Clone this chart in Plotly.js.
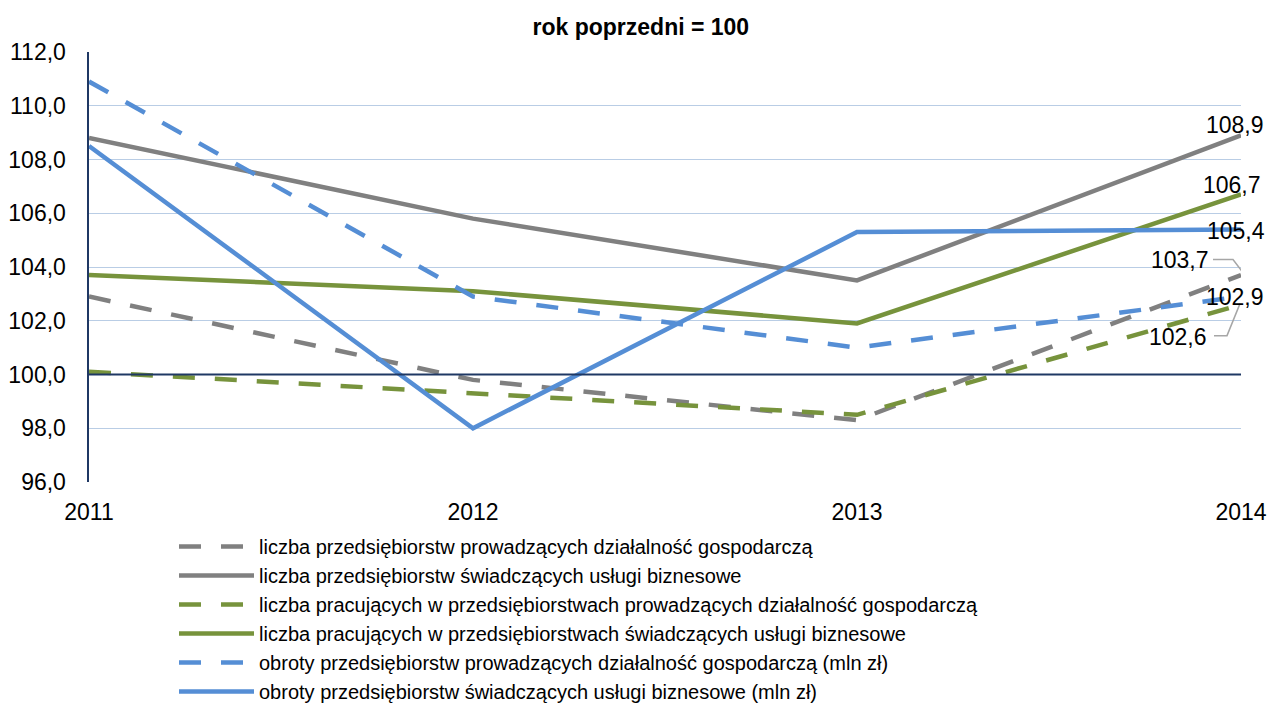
<!DOCTYPE html>
<html>
<head>
<meta charset="utf-8">
<script src="https://cdn.plot.ly/plotly-3.0.1.min.js"></script>
<style>html,body{margin:0;padding:0;background:#fff;}#chart{width:1269px;height:704px;}</style>
</head>
<body>
<div id="chart"></div>
<script>
const years = [2011, 2012, 2013, 2014];
const seriesNames = [
  "liczba przedsiębiorstw prowadzących działalność gospodarczą",
  "liczba przedsiębiorstw świadczących usługi biznesowe",
  "liczba pracujących w przedsiębiorstwach prowadzących działalność gospodarczą",
  "liczba pracujących w przedsiębiorstwach świadczących usługi biznesowe",
  "obroty przedsiębiorstw prowadzących działalność gospodarczą (mln zł)",
  "obroty przedsiębiorstw świadczących usługi biznesowe (mln zł)"
];
const firmyOgolem = [102.9, 99.8, 98.3, 103.7];
const firmyUslugi = [108.8, 105.8, 103.5, 108.9];
const pracujacyOgolem = [100.1, 99.3, 98.5, 102.6];
const pracujacyUslugi = [103.7, 103.1, 101.9, 106.7];
const obrotyOgolem = [110.9, 102.9, 101.0, 102.9];
const obrotyUslugi = [108.5, 98.0, 105.3, 105.4];
const yTicks = [96, 98, 100, 102, 104, 106, 108, 110, 112];

const GRAY = "#808080", GREEN = "#77933C", BLUE = "#558ED5";
const DASH = "22px,20px";
const FONT = "Liberation Sans, Arial, sans-serif";

const seriesData = [firmyOgolem, firmyUslugi, pracujacyOgolem, pracujacyUslugi, obrotyOgolem, obrotyUslugi];
const styles = [
  {color: GRAY, dash: DASH}, {color: GRAY, dash: "solid"},
  {color: GREEN, dash: DASH}, {color: GREEN, dash: "solid"},
  {color: BLUE, dash: DASH}, {color: BLUE, dash: "solid"}
];
const traces = seriesData.map((vals, i) => ({
  type: "scatter", mode: "lines", x: years, y: vals, name: seriesNames[i],
  line: {color: styles[i].color, dash: styles[i].dash, width: 4.5},
  hoverinfo: "x+y"
}));

// end labels: [series index, xshift, yshift]
const labelSpec = [[1, -6, 10], [3, -9, 9], [5, -5, -2], [0, -61, 15], [4, -6, 0], [2, -63, -32]];
const annotations = labelSpec.map(([i, xs, ys]) => {
  const v = seriesData[i][3];
  return {
    x: years[3], y: v, xref: "x", yref: "y", showarrow: false,
    text: v.toFixed(1).replace(".", ","), xshift: xs, yshift: ys,
    font: {family: FONT, size: 23, color: "#000"}
  };
});

const leader = (v, path) => ({
  type: "path", xref: "x", yref: "y", xsizemode: "pixel", ysizemode: "pixel",
  xanchor: years[3], yanchor: v, path: path,
  line: {color: "#A6A6A6", width: 1.5}
});

const shapes = [
  {type: "line", xref: "paper", yref: "y", x0: 0, x1: 1, y0: 100, y1: 100,
   line: {color: "#1F3864", width: 2}},
  leader(firmyOgolem[3], "M-28,15.5 L-8,15.5 L2,2.5"),
  leader(pracujacyOgolem[3], "M-27,-31 L-14,-31 L-1,1")
];

const layout = {
  width: 1269, height: 704,
  margin: {l: 89, r: 28, t: 52, b: 222, autoexpand: false},
  paper_bgcolor: "#fff", plot_bgcolor: "#fff",
  separators: ", ",
  font: {family: FONT, size: 22, color: "#000"},
  title: {text: "<b>rok poprzedni = 100</b>", x: 0.505, xref: "container", xanchor: "center",
          y: 1 - 27 / 704, yref: "container", yanchor: "middle",
          font: {family: FONT, size: 23, color: "#000"}},
  xaxis: {range: [2011, 2014], tickvals: years, ticktext: years.map(String),
          showgrid: false, zeroline: false, showline: false, ticks: "", automargin: false,
          ticklabelstandoff: 14, tickfont: {family: FONT, size: 23, color: "#000"}},
  yaxis: {range: [96, 112], tickvals: yTicks, tickformat: ".1f", automargin: false,
          showgrid: true, gridcolor: "#B9CDE5", gridwidth: 1, zeroline: false,
          showline: true, linecolor: "#1F3864", linewidth: 2.5, ticks: "",
          ticklabelstandoff: 16, tickfont: {family: FONT, size: 23, color: "#000"}},
  showlegend: true,
  legend: {x: (174 - 89) / 1152, y: (482 - 527) / 430,
           xanchor: "left", yanchor: "top", orientation: "v",
           itemwidth: 75, bgcolor: "rgba(0,0,0,0)", borderwidth: 0,
           font: {family: FONT, size: 20, color: "#000"}, traceorder: "normal"},
  annotations: annotations,
  shapes: shapes
};

Plotly.newPlot("chart", traces, layout, {displayModeBar: false, staticPlot: true});
</script>
</body>
</html>
